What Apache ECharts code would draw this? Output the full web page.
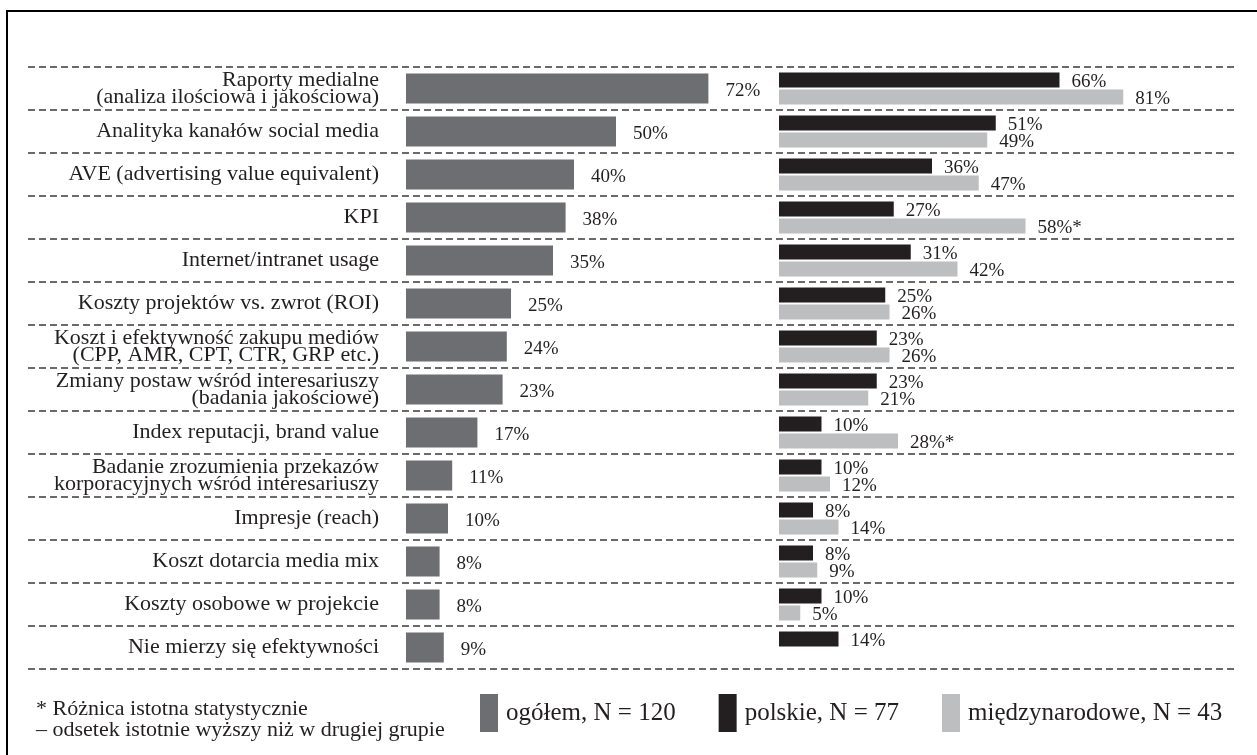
<!DOCTYPE html>
<html>
<head>
<meta charset="utf-8">
<script src="https://cdn.jsdelivr.net/npm/echarts@6/dist/echarts.min.js"></script>
<style>
html,body{margin:0;padding:0;background:#fff;}
#chart{width:1257px;height:755px;}
</style>
</head>
<body>
<div id="chart"></div>
<script>
const categories = [
  "Raporty medialne\n(analiza ilościowa i jakościowa)",
  "Analityka kanałów social media",
  "AVE (advertising value equivalent)",
  "KPI",
  "Internet/intranet usage",
  "Koszty projektów vs. zwrot (ROI)",
  "Koszt i efektywność zakupu mediów\n(CPP, AMR, CPT, CTR, GRP etc.)",
  "Zmiany postaw wśród interesariuszy\n(badania jakościowe)",
  "Index reputacji, brand value",
  "Badanie zrozumienia przekazów\nkorporacyjnych wśród interesariuszy",
  "Impresje (reach)",
  "Koszt dotarcia media mix",
  "Koszty osobowe w projekcie",
  "Nie mierzy się efektywności"
];
const ogolem   = [72, 50, 40, 38, 35, 25, 24, 23, 17, 11, 10, 8, 8, 9];
const polskie  = [66, 51, 36, 27, 31, 25, 23, 23, 10, 10, 8, 8, 10, 14];
const miedzy   = [81, 49, 47, 58, 42, 26, 26, 21, 28, 12, 14, 9, 5, null];
const sigMiedzy = ["", "", "", "*", "", "", "", "", "*", "", "", "", "", ""];
const seriesNames = ["ogółem, N = 120", "polskie, N = 77", "międzynarodowe, N = 43"];
const footnote = "* Różnica istotna statystycznie\n– odsetek istotnie wyższy niż w drugiej grupie";

const FONT = "'Liberation Serif', 'Times New Roman', serif";
const TXT = "#231f20";
const colors = ["#6d6e71", "#231f20", "#bcbec0"];

const chart = echarts.init(document.getElementById('chart'));
const valLabel = (dist, off, fmt) => ({
  show: true, position: 'right', distance: dist, offset: off,
  fontFamily: FONT, fontSize: 19, color: TXT, formatter: fmt
});

chart.setOption({
  animation: false,
  backgroundColor: '#fff',
  textStyle: { fontFamily: FONT, color: TXT },
  title: {
    text: footnote, left: 36, top: 699, padding: 0,
    textStyle: { fontFamily: FONT, fontSize: 22, fontWeight: 'normal', color: TXT, lineHeight: 21 }
  },
  legend: {
    data: seriesNames, left: 480, top: 694, padding: 0,
    itemWidth: 18, itemHeight: 38, itemGap: 43, icon: 'rect',
    textStyle: { fontFamily: FONT, fontSize: 25, color: TXT, padding: [0, 0, 0, 3] }
  },
  graphic: [{
    type: 'rect', shape: { x: 7, y: 11, width: 1300, height: 800 },
    style: { fill: 'none', stroke: '#000', lineWidth: 2 }, silent: true
  }],
  grid: [
    { left: 28, top: 67, width: 1209, height: 602 },
    { left: 406, top: 67, width: 420, height: 602 },
    { left: 779, top: 67, width: 425, height: 602 }
  ],
  xAxis: [
    { gridIndex: 0, type: 'value', min: 0, max: 1, show: false },
    { gridIndex: 1, type: 'value', min: 0, max: 100, show: false },
    { gridIndex: 2, type: 'value', min: 0, max: 100, show: false }
  ],
  yAxis: [
    { gridIndex: 0, type: 'category', data: categories, inverse: true,
      axisLine: { show: false }, axisTick: { show: false }, axisLabel: { show: false },
      splitLine: { show: true, interval: 0, lineStyle: { type: [7, 4], color: '#3a3a3a', width: 1.5 } } },
    { gridIndex: 1, type: 'category', data: categories, inverse: true,
      axisLine: { show: false }, axisTick: { show: false }, splitLine: { show: false },
      axisLabel: { interval: 0, margin: 27, fontFamily: FONT, fontSize: 22, color: TXT, lineHeight: 17, align: 'right', padding: [6, 0, 0, 0] } },
    { gridIndex: 2, type: 'category', data: categories, inverse: true,
      axisLine: { show: false }, axisTick: { show: false }, splitLine: { show: false }, axisLabel: { show: false } }
  ],
  series: [
    { name: seriesNames[0], type: 'bar', xAxisIndex: 1, yAxisIndex: 1, data: ogolem,
      barWidth: 30, itemStyle: { color: colors[0] },
      label: valLabel(17, [0, 3], p => p.value + '%') },
    { name: seriesNames[1], type: 'bar', xAxisIndex: 2, yAxisIndex: 2, data: polskie,
      barWidth: 15, barGap: '13%', itemStyle: { color: colors[1] },
      label: valLabel(12, [0, 2], p => p.value + '%') },
    { name: seriesNames[2], type: 'bar', xAxisIndex: 2, yAxisIndex: 2, data: miedzy,
      barWidth: 15, barGap: '13%', itemStyle: { color: colors[2] },
      label: valLabel(12, [0, 2], p => p.value + '%' + sigMiedzy[p.dataIndex]) }
  ]
});
</script>
</body>
</html>
